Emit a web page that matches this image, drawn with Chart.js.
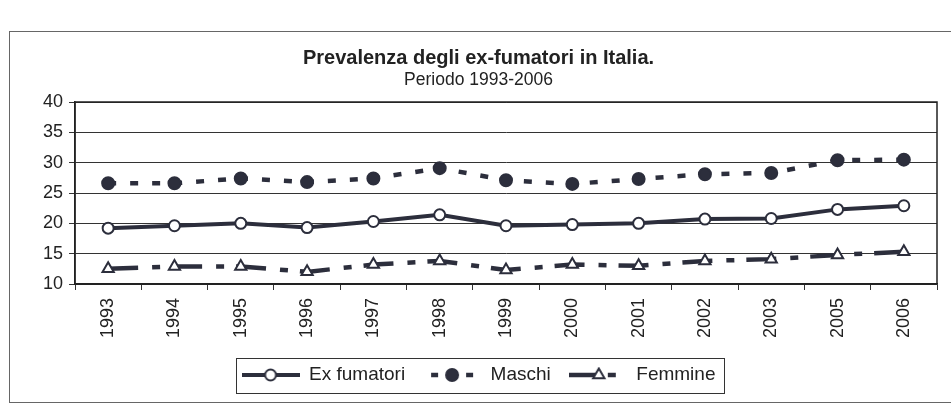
<!DOCTYPE html>
<html>
<head>
<meta charset="utf-8">
<script src="https://cdn.jsdelivr.net/npm/chart.js@4/dist/chart.umd.min.js"></script>
<style>
  html, body { margin: 0; padding: 0; background: #ffffff; overflow: hidden; }
  body { width: 951px; height: 408px; position: relative; }
  #frame { position: absolute; left: 9px; top: 31px; width: 960px; height: 372px; border: 1px solid #666; box-sizing: border-box; }
  #wrap { position: absolute; left: 10px; top: 32px; width: 952px; height: 370px; }
</style>
</head>
<body>
<div id="frame"></div>
<div id="wrap"><canvas id="c" width="952" height="370"></canvas></div>
<script>
// ---- data ----
const categories = ['1993','1994','1995','1996','1997','1998','1999','2000','2001','2002','2003','2005','2006'];
const exFumatori = [19.2, 19.6, 20.0, 19.3, 20.3, 21.4, 19.6, 19.8, 20.0, 20.7, 20.8, 22.3, 22.9];
const maschi     = [26.6, 26.6, 27.4, 26.8, 27.4, 29.1, 27.1, 26.5, 27.3, 28.1, 28.3, 30.4, 30.5];
const femmine    = [12.5, 12.9, 12.9, 12.0, 13.2, 13.8, 12.3, 13.2, 13.0, 13.8, 14.1, 14.8, 15.3];
const seriesNames = ['Ex fumatori', 'Maschi', 'Femmine'];
const yMin = 10, yMax = 40, yStep = 5;
const titleText = 'Prevalenza degli ex-fumatori in Italia.';
const subtitleText = 'Periodo 1993-2006';

const INK = '#2c2e3c';
const FONT = "'Liberation Sans', Arial, sans-serif";

const styles = [
  { dash: [], width: 4, point: 'circle', radius: 5.5, fill: '#ffffff', segs: [[0, 58]], mark: 29 },
  { dash: [8, 14], width: 4.5, point: 'circle', radius: 6, fill: INK, segs: [[8, 15], [43, 50]], mark: 29 },
  { dash: [30, 14, 8, 12], width: 4.5, point: 'triangle', radius: 6.5, fill: '#ffffff', segs: [[0, 32], [39, 47]], mark: 30 }
];

// legend sample pictures (line piece + marker), one per series
function makeSample(st) {
  const W = 58, H = 16, cy = H / 2;
  const cv = document.createElement('canvas');
  cv.width = W; cv.height = H;
  const g = cv.getContext('2d');
  g.strokeStyle = INK; g.lineWidth = st.width;
  st.segs.forEach(s => { g.beginPath(); g.moveTo(s[0], cy); g.lineTo(s[1], cy); g.stroke(); });
  g.fillStyle = st.fill; g.lineWidth = 2;
  const cx = st.mark, r = st.radius;
  g.beginPath();
  if (st.point === 'circle') {
    g.arc(cx, cy, r, 0, Math.PI * 2);
  } else {
    g.moveTo(cx, cy - r); g.lineTo(cx + r * 0.87, cy + r * 0.5); g.lineTo(cx - r * 0.87, cy + r * 0.5); g.closePath();
  }
  g.fill(); g.stroke();
  return cv;
}
const samples = styles.map(makeSample);

const values = [exFumatori, maschi, femmine];
const datasets = values.map((v, i) => ({
  label: seriesNames[i],
  data: v,
  borderColor: INK,
  backgroundColor: INK,
  borderWidth: styles[i].width,
  borderDash: styles[i].dash,
  pointStyle: styles[i].point,
  pointRadius: styles[i].radius,
  pointHoverRadius: styles[i].radius,
  pointBackgroundColor: styles[i].fill,
  pointBorderColor: INK,
  pointBorderWidth: 2,
  tension: 0,
  fill: false
}));

const plotFrame = {
  id: 'plotFrame',
  beforeDatasetsDraw(chart) {
    const a = chart.chartArea, ctx = chart.ctx;
    ctx.save(); ctx.strokeStyle = '#222'; ctx.lineWidth = 1.5;
    ctx.strokeRect(a.left, a.top, a.right - a.left, a.bottom - a.top);
    ctx.restore();
  }
};
const legendBox = {
  id: 'legendBox',
  afterDraw(chart) {
    const lg = chart.legend; if (!lg || !lg.legendHitBoxes) return;
    const hb = lg.legendHitBoxes;
    let l = Infinity, r = -Infinity, t = Infinity, b = -Infinity;
    hb.forEach(h => { l = Math.min(l, h.left); r = Math.max(r, h.left + h.width); t = Math.min(t, h.top); b = Math.max(b, h.top + h.height); });
    const ctx = chart.ctx; ctx.save(); ctx.strokeStyle = '#333'; ctx.lineWidth = 1;
    ctx.strokeRect(Math.round(l - 6) + 0.5, Math.round(t - 8) + 0.5, Math.round(r - l + 14), Math.round(b - t + 16));
    ctx.restore();
  }
};

new Chart(document.getElementById('c'), {
  type: 'line',
  data: { labels: categories, datasets },
  plugins: [plotFrame, legendBox],
  options: {
    responsive: false,
    animation: false,
    layout: { padding: { left: 10, right: 25, top: 0, bottom: 7.5 } },
    scales: {
      x: {
        type: 'category',
        offset: true,
        afterFit(s) { s.height = 63.5; },
        grid: { offset: true, drawOnChartArea: false, drawTicks: true, tickLength: 6, color: '#333', lineWidth: 1 },
        border: { display: true, color: '#222', width: 1.5 },
        ticks: { minRotation: 90, maxRotation: 90, autoSkip: false, padding: 8, color: '#222', font: { family: FONT, size: 18 } }
      },
      y: {
        min: yMin, max: yMax,
        afterFit(s) { s.width = 55; },
        grid: { color: '#333', lineWidth: 1, drawTicks: true, tickLength: 6 },
        border: { display: true, color: '#222', width: 1.5 },
        ticks: { stepSize: yStep, padding: 6, color: '#222', font: { family: FONT, size: 18 } }
      }
    },
    plugins: {
      title: { display: true, text: titleText, color: '#222', font: { family: FONT, size: 20, weight: 'bold' }, padding: { top: 14, bottom: 0 } },
      subtitle: { display: true, text: subtitleText, color: '#222', font: { family: FONT, size: 17.5 }, padding: { top: 0, bottom: 11 } },
      legend: {
        position: 'bottom',
        labels: {
          usePointStyle: true, pointStyleWidth: 58, boxHeight: 16, padding: 18,
          color: '#222', font: { family: FONT, size: 19 },
          generateLabels(chart) {
            const items = Chart.defaults.plugins.legend.labels.generateLabels(chart);
            items.forEach((it, i) => { it.pointStyle = samples[i]; });
            return items;
          }
        }
      },
      tooltip: { enabled: false }
    }
  }
});
</script>
</body>
</html>
